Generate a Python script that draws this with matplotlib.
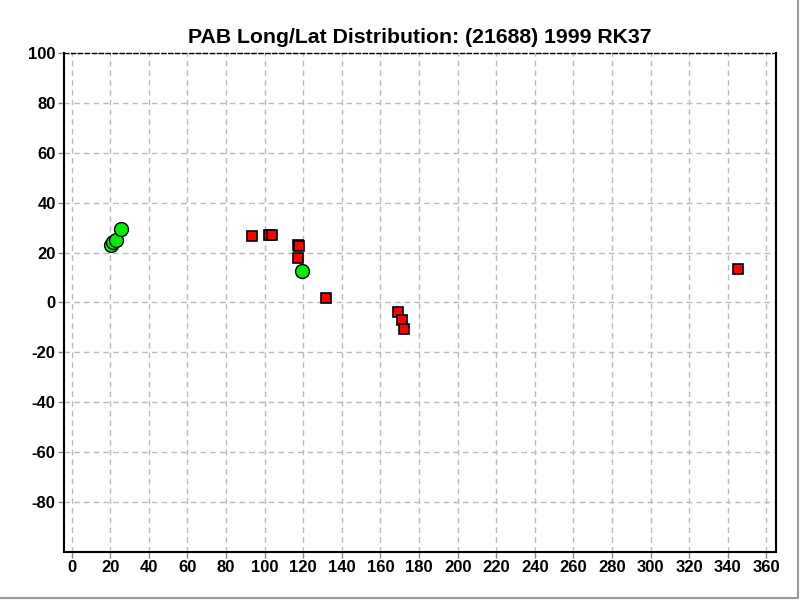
import matplotlib
matplotlib.use("Agg")
import matplotlib.pyplot as plt
from matplotlib.lines import Line2D

plt.rcParams['font.family'] = ['Liberation Sans', 'DejaVu Sans']
plt.rcParams['axes.unicode_minus'] = False

# green circles
green_lon = [20.6, 21.4, 22.7, 25.3, 119.1]
green_lat = [23.2, 24.1, 25.2, 29.3, 12.5]

# red squares
red_lon = [93.5, 102.3, 103.9, 117.2, 117.9, 117.4, 131.9, 169.2, 171.3, 172.4, 345.1]
red_lat = [26.7, 27.1, 27.1, 23.2, 22.7, 17.9, 1.9, -3.7, -7.1, -10.5, 13.5]

x_ticks = list(range(0, 361, 20))
y_ticks = list(range(-80, 101, 20))

fig = plt.figure(figsize=(8, 6), dpi=100)
ax = fig.add_axes([0.08, 0.08, 0.89, 0.8317])

ax.plot(red_lon, red_lat, 's', color='#ff0000', markeredgecolor='black',
        markeredgewidth=1.2, markersize=6.5, zorder=3)
ax.plot(green_lon, green_lat, 'o', color='#00ee00', markeredgecolor='black',
        markeredgewidth=1.0, markersize=10, zorder=4)

ax.set_xlim(-4, 365)
ax.set_ylim(-100, 100)
ax.set_xticks(x_ticks)
ax.set_yticks(y_ticks)
ax.grid(True, color='#bbbbbb', linestyle=(0, (4, 3)), linewidth=1)
ax.set_axisbelow(True)

for lab in ax.get_xticklabels() + ax.get_yticklabels():
    lab.set_fontweight('bold')
ax.tick_params(axis='both', labelsize=12, length=4, width=1, color='#888888', pad=2)

ax.spines['left'].set_linewidth(1.5)
ax.spines['bottom'].set_linewidth(1.5)
ax.spines['right'].set_linewidth(1.5)
ax.spines['top'].set_linestyle((0, (3, 2)))
ax.spines['top'].set_linewidth(1)

ax.set_title('PAB Long/Lat Distribution: (21688) 1999 RK37', fontsize=15.3,
             fontweight='bold', pad=7)

# grey window edge on right and bottom
fig.lines.append(Line2D([0, 0.998, 0.998], [0.003, 0.003, 1], transform=fig.transFigure,
                        color='#999999', linewidth=1.5))

fig.savefig('out.png', dpi=100)
